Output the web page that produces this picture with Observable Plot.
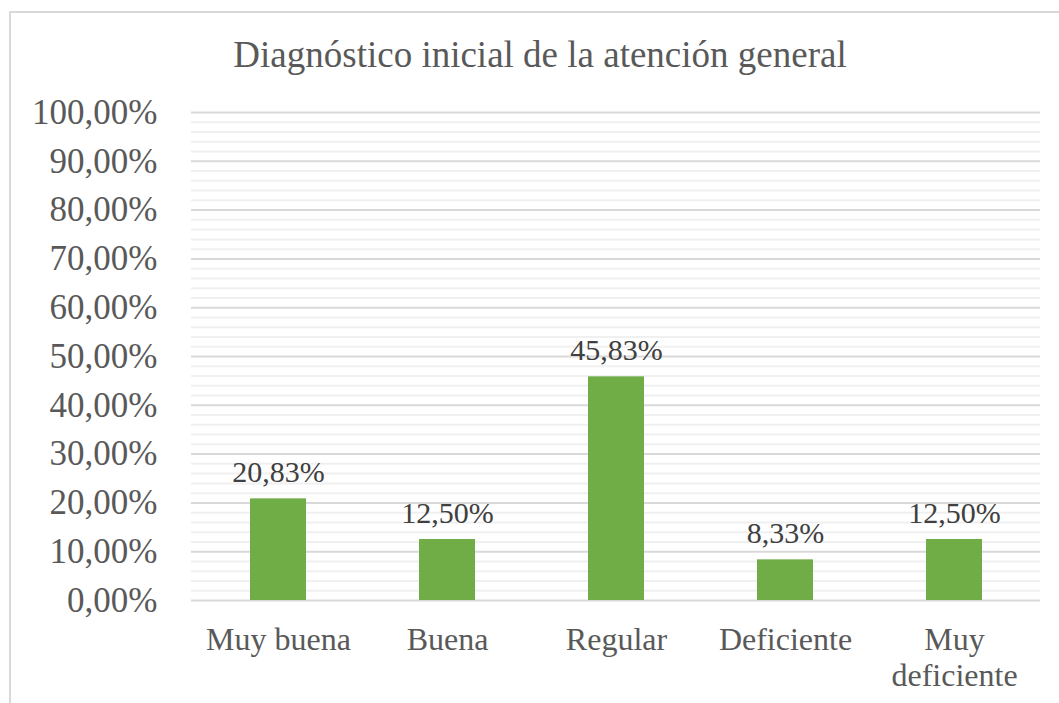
<!DOCTYPE html>
<html>
<head>
<meta charset="utf-8">
<script src="https://cdn.jsdelivr.net/npm/d3@7"></script>
<script src="https://cdn.jsdelivr.net/npm/@observablehq/plot@0.6"></script>
<style>
  html, body { margin: 0; padding: 0; background: #fff; overflow: hidden; }
  #wrap { position: relative; width: 1059px; height: 703px; overflow: hidden; background: #fff; }
  #frame { position: absolute; left: 9px; top: 11px; width: 1100px; height: 800px; border: 2px solid #d9d9d9; box-sizing: border-box; }
  #title { position: absolute; left: 0; width: 1080px; top: 36px; text-align: center; font-family: "Liberation Serif", "Times New Roman", serif; font-size: 37px; line-height: 37px; color: #595959; white-space: nowrap; }
  #chart { position: absolute; left: 0; top: 90px; }
</style>
</head>
<body>
<div id="wrap">
  <div id="frame"></div>
  <div id="title">Diagnóstico inicial de la atención general</div>
  <div id="chart"></div>
</div>
<script>
const categories = ["Muy buena", "Buena", "Regular", "Deficiente", "Muy deficiente"];
const categoryLabels = ["Muy buena", "Buena", "Regular", "Deficiente", "Muy\ndeficiente"];
const values = [20.83, 12.50, 45.83, 8.33, 12.50];
const valueLabels = ["20,83%", "12,50%", "45,83%", "8,33%", "12,50%"];
const yTicks = [0, 10, 20, 30, 40, 50, 60, 70, 80, 90, 100];

const data = categories.map((c, i) => ({category: c, value: values[i], label: valueLabels[i]}));
const labelOf = new Map(categories.map((c, i) => [c, categoryLabels[i]]));
const minor = d3.range(0, 101, 2).filter(v => v % 10 !== 0);
const fmt = d => d.toFixed(2).replace(".", ",") + "%";

const chart = Plot.plot({
  width: 1059,
  height: 613,
  marginLeft: 191,
  marginRight: 19,
  marginTop: 22,
  marginBottom: 103,
  style: {fontFamily: "'Liberation Serif', 'Times New Roman', serif", background: "transparent", overflow: "visible"},
  x: {domain: categories, paddingInner: 0.67, paddingOuter: 0.335, label: null},
  y: {domain: [0, 100], label: null},
  marks: [
    Plot.ruleY(minor, {stroke: "#f0f0f0", strokeWidth: 2}),
    Plot.ruleY(yTicks, {stroke: "#d9d9d9", strokeWidth: 2}),
    Plot.barY(data, {x: "category", y: "value", fill: "#70ad47"}),
    Plot.text(data, {x: "category", y: "value", text: "label", dy: -17, lineAnchor: "bottom", fontSize: 30, fill: "#404040"}),
    Plot.axisY({ticks: yTicks, tickFormat: fmt, tickSize: 0, tickPadding: 34, fontSize: 35, color: "#595959", label: null}),
    Plot.axisX({tickFormat: d => labelOf.get(d), tickSize: 0, tickPadding: 24, fontSize: 32, lineHeight: 1.125, color: "#595959", label: null})
  ]
});
document.getElementById("chart").appendChild(chart);
</script>
</body>
</html>
